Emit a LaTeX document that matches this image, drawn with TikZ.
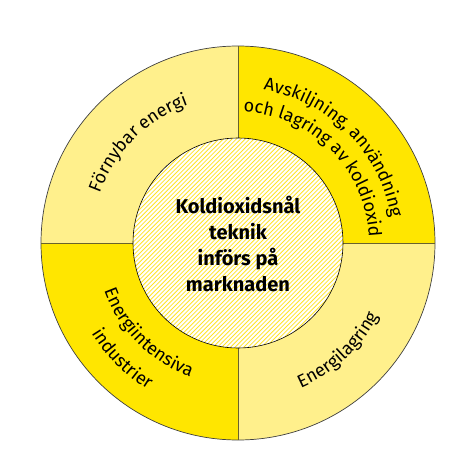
\documentclass[tikz,border=0pt]{standalone}
\usepackage{fontspec}
\setmainfont{Fira Sans}
\usepackage{tikz}
\usetikzlibrary{decorations.text}
\definecolor{paleyellow}{RGB}{255,240,140}
\definecolor{brightyellow}{RGB}{255,230,0}
\definecolor{hatchyellow}{RGB}{255,228,40}
\definecolor{dividergray}{RGB}{105,98,45}
\newcommand{\ringfont}{\fontsize{18}{21}\selectfont}

\begin{document}
\begin{tikzpicture}[
    x=1pt, y=1pt,
    rim/.style={draw=black!75, line width=0.7pt},
    divider/.style={draw=dividergray, line width=0.9pt},
    hatch/.style={draw=hatchyellow, line width=0.8pt},
    ringtext/.style={decorate, decoration={text along path, text align=center, text={|\ringfont|#1}}}
  ]
    \useasboundingbox (-238,-228) rectangle (238,243);

    % four quarters of the ring
    \foreach \a/\c in {180/paleyellow, 90/brightyellow, 0/paleyellow, -90/brightyellow}
        \fill[\c] (0,0) -- (\a:197pt) arc[start angle=\a, end angle=\a-90, radius=197pt] -- cycle;
    \draw[rim] (0,0) circle[radius=197pt];
    \foreach \a in {0,90,180,270}
        \draw[divider] (\a:105pt) -- (\a:197pt);

    % hatched core
    \fill[white] (0,0) circle[radius=105pt];
    \begin{scope}
        \clip (0,0) circle[radius=105pt];
        \foreach \d in {-220,-215.6,...,220}
            \draw[hatch] (\d-120,-120) -- (\d+120,120);
    \end{scope}
    \draw[black, line width=0.6pt] (0,0) circle[radius=105pt];
    \node[align=center, font=\bfseries\fontsize{20}{26}\selectfont] (core-label) at (0,-1)
        {Koldioxidsnål\\teknik\\införs på\\marknaden};

    % labels along the ring
    \path[ringtext={Förnybar energi}] (195:147pt) arc[start angle=195, end angle=75, radius=147pt];
    \path[ringtext={Avskiljning, användning}] (110:155pt) arc[start angle=110, end angle=-20, radius=155pt];
    \path[ringtext={och lagring av koldioxid}] (115:131pt) arc[start angle=115, end angle=-25, radius=131pt];
    \path[ringtext={Energiintensiva}] (160:142pt) arc[start angle=160, end angle=290, radius=142pt];
    \path[ringtext={industrier}] (165:172pt) arc[start angle=165, end angle=285, radius=172pt];
    \path[ringtext={Energilagring}] (-110:158pt) arc[start angle=-110, end angle=16, radius=158pt];
\end{tikzpicture}
\end{document}
